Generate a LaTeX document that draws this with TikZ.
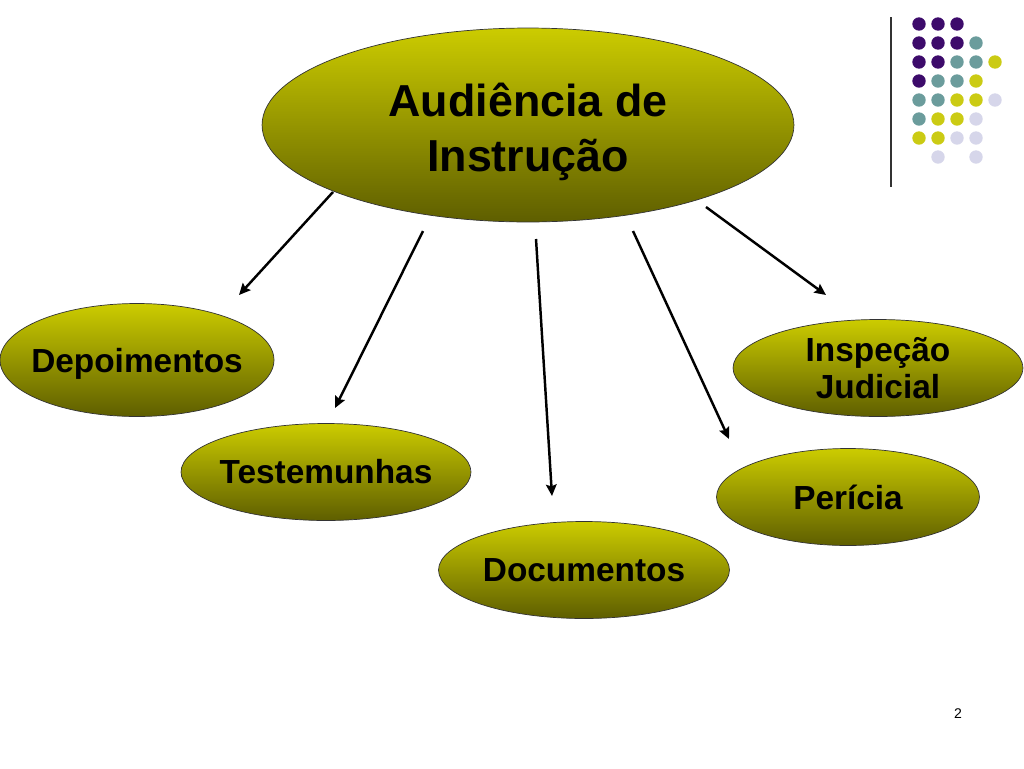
\documentclass[tikz,border=0pt]{standalone}
\usepackage{fontspec}
\setmainfont{Liberation Sans}
\usepackage{xcolor}
\usetikzlibrary{shapes.geometric,arrows.meta}

\definecolor{olivetop}{HTML}{CCCC00}
\definecolor{olivebot}{HTML}{5E5E00}
\definecolor{dotpurple}{HTML}{3D0B6B}
\definecolor{dotteal}{HTML}{6B9C9C}
\definecolor{dotyellow}{HTML}{CBCB14}
\definecolor{dotlilac}{HTML}{D6D6EA}
\newcommand{\lowered}[2]{\raisebox{-#1}[\height][\depth]{#2}}

\begin{document}
\begin{tikzpicture}[x=0.02cm,y=-0.02cm,
  bubble/.style={ellipse,draw=black!80,thin,top color=olivetop,bottom color=olivebot,
    inner xsep=-20pt,inner ysep=-10pt,align=center,font=\bfseries\fontsize{19}{21}\selectfont},
  arr/.style={line width=1.4pt,-{Stealth[length=6.5pt,width=6pt,inset=1pt]}}]
\useasboundingbox (0,0) rectangle (1024,768);

% title ellipse
\node[bubble,minimum width=10.64cm,minimum height=3.88cm,font=\bfseries\fontsize{25.5}{31}\selectfont] (aud) at (528,125) {\lowered{4pt}{Audiência de}\\\lowered{4pt}{Instrução}};

% topics
\node[bubble,minimum width=5.48cm,minimum height=2.26cm] (dep) at (137,360) {\lowered{2.3pt}{Depoimentos}};
\node[bubble,minimum width=5.8cm,minimum height=1.94cm] (tes) at (326,472) {Testemunhas};
\node[bubble,minimum width=5.82cm,minimum height=1.94cm] (doc) at (584,570) {Documentos};
\node[bubble,minimum width=5.26cm,minimum height=1.94cm] (per) at (848,497) {Perícia};
\node[bubble,minimum width=5.8cm,minimum height=1.94cm] (insp) at (878,368) {Inspeção\\Judicial};

% arrows
\coordinate (a1) at (333,192); \coordinate (b1) at (239,295);
\coordinate (a2) at (423,231); \coordinate (b2) at (335,408);
\coordinate (a3) at (536,239); \coordinate (b3) at (552,496);
\coordinate (a4) at (633,231); \coordinate (b4) at (729,439);
\coordinate (a5) at (706,207); \coordinate (b5) at (826,295);
\foreach \i in {1,...,5}
  \draw[arr] (a\i) -- (b\i);

% corner decoration
\draw[line width=0.8pt,black!80] (891,17) -- (891,187);
\foreach \c/\r/\col in {1/1/dotpurple,2/1/dotpurple,3/1/dotpurple,
  1/2/dotpurple,2/2/dotpurple,3/2/dotpurple,4/2/dotteal,
  1/3/dotpurple,2/3/dotpurple,3/3/dotteal,4/3/dotteal,5/3/dotyellow,
  1/4/dotpurple,2/4/dotteal,3/4/dotteal,4/4/dotyellow,
  1/5/dotteal,2/5/dotteal,3/5/dotyellow,4/5/dotyellow,5/5/dotlilac,
  1/6/dotteal,2/6/dotyellow,3/6/dotyellow,4/6/dotlilac,
  1/7/dotyellow,2/7/dotyellow,3/7/dotlilac,4/7/dotlilac,
  2/8/dotlilac,4/8/dotlilac}
  \fill[\col] ({900+19*\c},{5+19*\r}) circle (6.7);

\node[font=\fontsize{8}{9}\selectfont] (num) at (958,714) {2};
\end{tikzpicture}
\end{document}
